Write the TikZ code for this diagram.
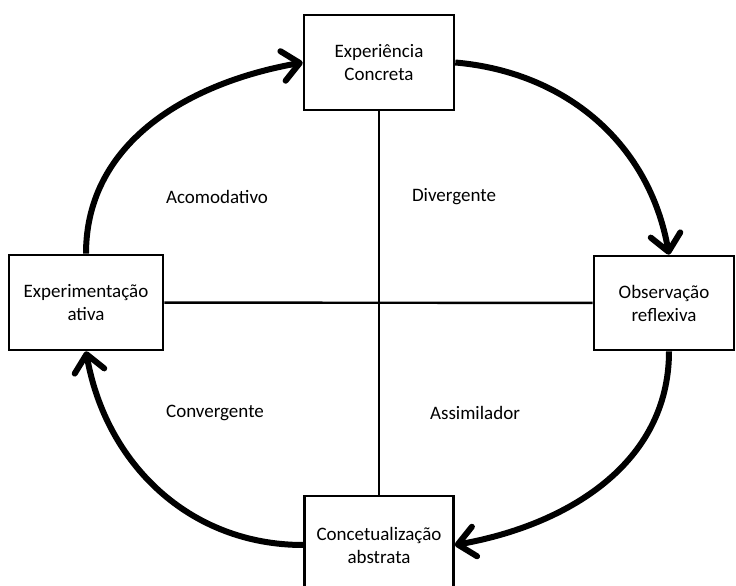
\documentclass[tikz,border=0pt]{standalone}
\usepackage{fontspec}
\setmainfont{Carlito}
\usetikzlibrary{arrows.meta}
\begin{document}
\begin{tikzpicture}[x=1pt,y=1pt]
    \tikzstyle{stage}=[draw=black,line width=2.6pt,align=center,inner sep=0pt,font=\fontsize{19}{23}\selectfont]
    \tikzstyle{quadrant}=[font=\fontsize{19}{23}\selectfont]
    \tikzstyle{axis}=[line width=2.4pt]
    \tikzstyle{cycle}=[line width=6pt,-{Straight Barb[length=17pt,width=30pt,round]}]

    \clip (0,0) rectangle (736,586);

    \node[stage,minimum width=150pt,minimum height=95pt] at (379,523.5) (ec) {Experiência\\Concreta};
    \node[stage,minimum width=140pt,minimum height=94pt] at (664,283) (ob) {Observação\\reflexiva};
    \node[stage,minimum width=149pt,minimum height=98pt] at (379,41) (ca) {Concetualização\\abstrata};
    \node[stage,minimum width=154pt,minimum height=95pt] at (86,283.5) (ea) {Experimentação\\ativa};

    \node[quadrant] at (217,389) (acom) {Acomodativo};
    \node[quadrant] at (454,389) (div) {Divergente};
    \node[quadrant] at (215,173) (conv) {Convergente};
    \node[quadrant] at (475,173) (assim) {Assimilador};

    \draw[axis] (ec) -- (ca);
    \draw[axis] (ea) -- (ob);

    \draw[cycle] (ea.north) to [out=90, in=190] (ec.west);
    \draw[cycle] (ec.east) to [out=-5, in=100] ([xshift=5pt]ob.north);
    \draw[cycle] ([xshift=5pt]ob.south) to [out=-90, in=10] (ca.east);
    \draw[cycle] (ca.west) to [out=180, in=-80] (ea.south);
\end{tikzpicture}
\end{document}
